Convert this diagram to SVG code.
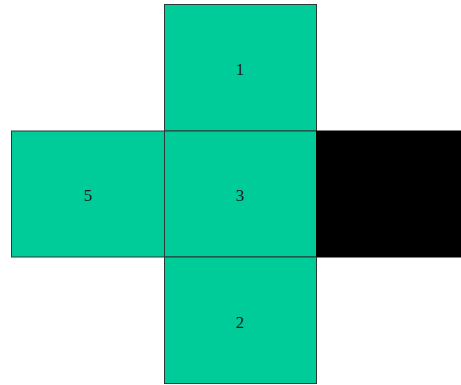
<svg xmlns="http://www.w3.org/2000/svg" width="461" height="385" viewBox="0 0 461 385">
<style>
.f{fill:#00CC99;stroke:#2a3a36;stroke-width:1}
.k{fill:#000000;stroke:#000000;stroke-width:1}
text{font-family:"Liberation Serif","Times New Roman",serif;font-size:17px;fill:#1a1a1a;text-anchor:middle;dominant-baseline:central}
</style>
<rect width="461" height="385" fill="#ffffff"/>
<g id="face1"><rect class="f" x="164.5" y="4.5" width="152" height="126.5"/><text x="240" y="69">1</text></g>
<g id="face5"><rect class="f" x="11.5" y="131" width="153" height="126"/><text x="88" y="195">5</text></g>
<g id="face3"><rect class="f" x="164.5" y="131" width="152" height="126"/><text x="240" y="195">3</text></g>
<g id="face6"><rect class="k" x="316.5" y="131" width="144" height="126"/></g>
<g id="face2"><rect class="f" x="164.5" y="257" width="152" height="126.5"/><text x="240" y="322">2</text></g>
<g id="connectors"></g>
</svg>
